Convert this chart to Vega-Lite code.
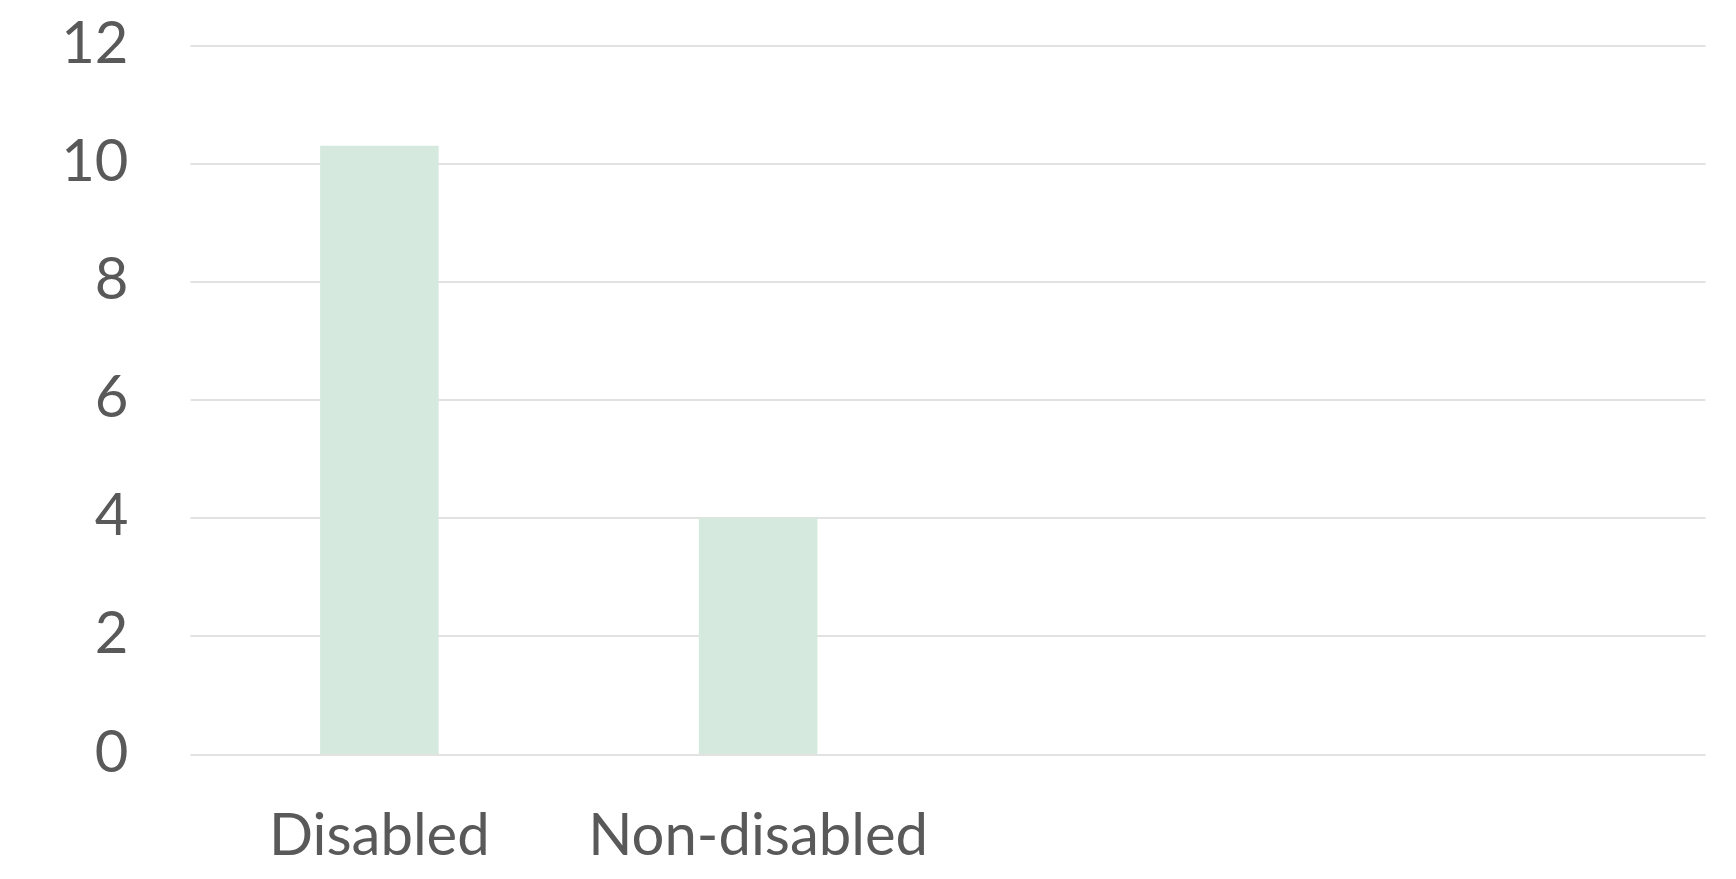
{
  "$schema": "https://vega.github.io/schema/vega-lite/v6.json",
  "width": 1515,
  "height": 708.5,
  "autosize": {"type": "none"},
  "padding": {"left": 190, "top": 45.5, "right": 31, "bottom": 125},
  "background": "white",
  "data": {"values": [
    {"group": "Disabled", "value": 10.3},
    {"group": "Non-disabled", "value": 4.0}
  ]},
  "mark": {"type": "bar", "color": "#d6e9df"},
  "encoding": {
    "x": {
      "field": "group", "type": "nominal", "sort": null,
      "scale": {"domain": ["Disabled", "Non-disabled", "c3", "c4"], "paddingInner": 0.687, "paddingOuter": 0.3435},
      "axis": {
        "title": null, "labelAngle": 0, "domain": false, "ticks": false, "grid": false,
        "labelExpr": "datum.value == 'c3' || datum.value == 'c4' ? '' : datum.value",
        "labelFont": "Lato", "labelFontSize": 58, "labelColor": "#595959",
        "labelBaseline": "alphabetic", "labelPadding": 100, "labelLimit": 600
      }
    },
    "y": {
      "field": "value", "type": "quantitative",
      "scale": {"domain": [0, 12], "nice": false},
      "axis": {
        "title": null, "values": [0, 2, 4, 6, 8, 10, 12], "domain": false, "ticks": false,
        "grid": true, "gridColor": "#d9d9d9", "gridWidth": 1.5,
        "labelFont": "Lato", "labelFontSize": 58, "labelColor": "#595959",
        "labelPadding": 62, "labelBaseline": "middle"
      }
    }
  },
  "config": {"view": {"stroke": null}}
}
